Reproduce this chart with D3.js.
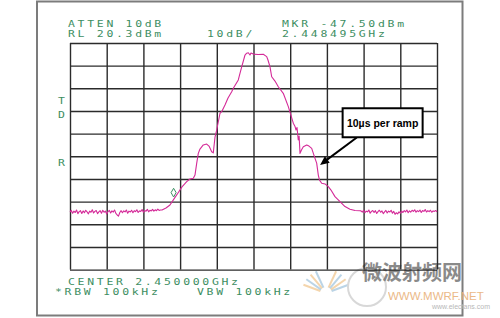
<!DOCTYPE html>
<html>
<head>
<meta charset="utf-8">
<script src="https://cdn.jsdelivr.net/npm/d3@7/dist/d3.min.js"></script>
<style>
  body { margin: 0; background: #fff; }
  svg { display: block; }
  .grid line { stroke: #2b2b2b; stroke-width: 1.4; }
  .grid .domain { display: none; }
  .readout { font-family: 'DejaVu Sans Mono', monospace; font-size: 8.5px; fill: #3d8e62; }
</style>
</head>
<body>
<div class="analyzer-container"></div>
<script>
// Data (frequency in MHz, level in dBm)
const freqTicks = [2446.5, 2447.2, 2447.9, 2448.6, 2449.3, 2450.0, 2450.7, 2451.4, 2452.1, 2452.8, 2453.5];
const levelTicks = [20.3, 10.3, 0.3, -9.7, -19.7, -29.7, -39.7, -49.7, -59.7, -69.7, -79.7];

const noiseLeft = [
    [2446.500, -54.3], [2446.525, -53.6], [2446.550, -54.8], [2446.575, -53.9], [2446.600, -54.5],
    [2446.625, -53.4], [2446.650, -55.0], [2446.675, -54.1], [2446.700, -53.7], [2446.725, -54.9],
    [2446.750, -53.8], [2446.775, -54.6], [2446.800, -53.5], [2446.825, -54.2], [2446.850, -55.1],
    [2446.875, -53.9], [2446.900, -54.4], [2446.925, -53.3], [2446.950, -54.7], [2446.975, -54.0],
    [2447.000, -53.6], [2447.025, -55.0], [2447.050, -54.2], [2447.075, -53.7], [2447.100, -54.8],
    [2447.125, -53.5], [2447.150, -54.4], [2447.175, -53.9], [2447.200, -55.2], [2447.225, -54.1],
    [2447.250, -53.6], [2447.275, -54.7], [2447.300, -53.8], [2447.325, -54.3], [2447.350, -53.4],
    [2447.375, -54.9], [2447.400, -55.6], [2447.425, -56.1], [2447.450, -54.5], [2447.475, -53.7],
    [2447.500, -54.6], [2447.525, -53.8], [2447.550, -54.2], [2447.575, -53.4], [2447.600, -54.8],
    [2447.625, -53.9], [2447.650, -54.3], [2447.675, -53.5], [2447.700, -54.6], [2447.725, -53.7],
    [2447.750, -54.1], [2447.775, -53.3], [2447.800, -54.5], [2447.825, -53.8], [2447.850, -54.0],
    [2447.875, -53.2], [2447.900, -54.4], [2447.925, -53.6], [2447.950, -53.9], [2447.975, -53.1],
    [2448.000, -54.2], [2448.025, -53.5], [2448.050, -53.8], [2448.075, -53.1], [2448.100, -53.9],
    [2448.125, -53.3], [2448.150, -53.7], [2448.175, -53.0], [2448.200, -53.6], [2448.225, -53.4]
];

const signal = [
    [2448.255, -53.4], [2448.331, -52.5], [2448.407, -51.2], [2448.484, -48.5], [2448.560, -45.9],
    [2448.636, -43.2], [2448.726, -40.9], [2448.789, -39.7], [2448.852, -39.4], [2448.884, -38.0],
    [2448.917, -32.7], [2448.947, -28.4], [2448.979, -26.5], [2449.042, -24.7], [2449.107, -24.3],
    [2449.151, -25.2], [2449.203, -27.7], [2449.233, -28.2], [2449.266, -21.2], [2449.298, -18.1],
    [2449.361, -10.7], [2449.393, -10.0], [2449.456, -7.1], [2449.514, -4.0], [2449.584, -1.2],
    [2449.615, 0.3], [2449.710, 4.0], [2449.742, 6.9], [2449.775, 9.8], [2449.838, 15.0],
    [2449.870, 15.8], [2449.901, 16.0], [2449.933, 15.0], [2449.952, 15.9], [2449.996, 15.4],
    [2450.086, 15.2], [2450.187, 15.3], [2450.252, 14.3], [2450.276, 12.8], [2450.315, 9.8],
    [2450.347, 5.4], [2450.410, 3.5], [2450.473, 1.0], [2450.568, -1.9], [2450.664, -7.8],
    [2450.696, -10.2], [2450.759, -15.1], [2450.790, -16.4], [2450.811, -18.1], [2450.830, -17.0],
    [2450.854, -22.5], [2450.870, -20.8], [2450.887, -28.4], [2450.915, -26.9], [2450.950, -25.5],
    [2451.015, -24.7], [2451.058, -25.2], [2451.110, -26.2], [2451.173, -30.6], [2451.205, -32.7],
    [2451.236, -38.0], [2451.259, -40.2], [2451.301, -41.6], [2451.364, -41.9], [2451.427, -43.1],
    [2451.478, -44.6], [2451.554, -47.5], [2451.650, -49.7], [2451.745, -51.9], [2451.840, -53.1],
    [2451.936, -53.6], [2452.031, -53.7]
];

const noiseRight = [
    [2452.050, -53.8], [2452.075, -54.3], [2452.100, -53.5], [2452.125, -54.6], [2452.150, -53.9],
    [2452.175, -54.2], [2452.200, -53.4], [2452.225, -54.8], [2452.250, -54.0], [2452.275, -53.6],
    [2452.300, -54.5], [2452.325, -53.7], [2452.350, -54.9], [2452.375, -54.1], [2452.400, -53.5],
    [2452.425, -54.4], [2452.450, -53.8], [2452.475, -55.0], [2452.500, -54.2], [2452.525, -53.6],
    [2452.550, -54.7], [2452.575, -53.9], [2452.600, -54.3], [2452.625, -53.5], [2452.650, -54.8],
    [2452.675, -54.0], [2452.700, -55.3], [2452.725, -54.6], [2452.750, -55.1], [2452.775, -54.2],
    [2452.800, -54.8], [2452.825, -53.9], [2452.850, -54.5], [2452.875, -53.7], [2452.900, -54.2],
    [2452.925, -53.4], [2452.950, -54.6], [2452.975, -53.8], [2453.000, -54.3], [2453.025, -53.5],
    [2453.050, -54.0], [2453.075, -53.3], [2453.100, -54.4], [2453.125, -53.7], [2453.150, -54.1],
    [2453.175, -53.4], [2453.200, -54.5], [2453.225, -53.6], [2453.250, -54.0], [2453.275, -53.2],
    [2453.300, -54.3], [2453.325, -53.7], [2453.350, -54.1], [2453.375, -53.5], [2453.400, -54.4],
    [2453.425, -53.8], [2453.450, -54.0], [2453.475, -53.6], [2453.500, -54.2]
];

const marker = {freq: 2448.495, level: -47.5};

const readouts = [
    {text: 'ATTEN 10dB', x: 68, y: 27},
    {text: 'RL 20.3dBm', x: 68, y: 36.5},
    {text: '10dB/', x: 207, y: 36.5},
    {text: 'MKR -47.50dBm', x: 282, y: 27},
    {text: '2.448495GHz', x: 282, y: 36.5},
    {text: 'CENTER 2.450000GHz', x: 68, y: 285},
    {text: '*RBW 100kHz', x: 55, y: 295},
    {text: 'VBW 100kHz', x: 197, y: 295}
];
const sideLabels = [
    {text: 'T', y: 104},
    {text: 'D', y: 117.5},
    {text: 'R', y: 166}
];

const note = {
    text: '10\u00b5s per ramp',
    boxFreq: 2451.7, boxLevel: -8.5,
    tailFreq: 2451.97, tailLevel: -21.4,
    tipFreq: 2451.27, tipLevel: -33.5
};

// Main
function ready(){
    const margin = {top: 43, left: 70};
    const width = 367;
    const height = 226.6;

    const xScale = d3.scaleLinear()
        .domain(d3.extent(freqTicks))
        .range([0, width]);

    const yScale = d3.scaleLinear()
        .domain(d3.extent(levelTicks))
        .range([height, 0]);

    const root = d3.select('.analyzer-container')
        .append('svg')
        .attr('width', 500)
        .attr('height', 318);

    // Outer frame
    root.append('rect')
        .attr('x', 37)
        .attr('y', 1.5)
        .attr('width', 425.5)
        .attr('height', 314)
        .style('fill', 'none')
        .style('stroke', '#7c7c7c')
        .style('stroke-width', 2);

    // Watermark
    const wm = root.append('g').attr('class', 'watermark');
    const rays = [-70, -55, -40, -25, 25, 40, 55, 70];
    wm.selectAll('.ray')
        .data(rays)
        .enter()
        .append('line')
        .attr('x1', d => 326 + Math.sin(d * Math.PI / 180) * 6)
        .attr('y1', d => 293 - Math.cos(d * Math.PI / 180) * 6)
        .attr('x2', d => 326 + Math.sin(d * Math.PI / 180) * 24)
        .attr('y2', d => 293 - Math.cos(d * Math.PI / 180) * 24)
        .style('stroke', (d, i) => (i % 2 ? '#9fc3dc' : '#f0c48a'))
        .style('stroke-width', 2)
        .style('opacity', 0.7);
    wm.append('circle')
        .attr('cx', 367)
        .attr('cy', 287)
        .attr('r', 19)
        .style('fill', 'none')
        .style('stroke', '#d8d8d8')
        .style('stroke-width', 2);
    wm.append('text')
        .attr('x', 362)
        .attr('y', 280)
        .text('微波射频网')
        .style('font-family', "'Noto Sans CJK SC', sans-serif")
        .style('font-weight', 'bold')
        .style('font-size', '20px')
        .style('fill', '#6e6e6e')
        .style('opacity', 0.8);
    wm.append('text')
        .attr('x', 388)
        .attr('y', 300)
        .text('WWW.MWRF.NET')
        .style('font-family', "'Liberation Sans', sans-serif")
        .style('font-size', '11.5px')
        .style('fill', '#eab27a')
        .style('opacity', 0.9);
    wm.append('text')
        .attr('x', 432)
        .attr('y', 309)
        .text('www.elecfans.com')
        .style('font-family', "'Liberation Sans', sans-serif")
        .style('font-size', '7px')
        .style('fill', '#b8b8b8');

    const svg = root.append('g')
        .attr('transform', `translate(${margin.left}, ${margin.top})`);

    // Grid
    const xAxis = d3.axisBottom(xScale)
        .tickValues(freqTicks)
        .tickFormat('')
        .tickSizeInner(-height)
        .tickSizeOuter(0);

    const yAxis = d3.axisLeft(yScale)
        .tickValues(levelTicks)
        .tickFormat('')
        .tickSizeInner(-width)
        .tickSizeOuter(0);

    svg.append('g')
        .attr('class', 'grid x')
        .attr('transform', `translate(0, ${height})`)
        .call(xAxis);

    svg.append('g')
        .attr('class', 'grid y')
        .call(yAxis);

    // Trace
    const trace = noiseLeft.concat(signal, noiseRight);
    const line = d3.line()
        .x(d => xScale(d[0]))
        .y(d => yScale(d[1]));

    svg.append('path')
        .datum(trace)
        .attr('d', line)
        .style('fill', 'none')
        .style('stroke', '#d42a98')
        .style('stroke-width', 1.1)
        .style('stroke-linejoin', 'round');

    // Marker
    svg.append('path')
        .attr('d', d3.symbol(d3.symbolDiamond, 22)())
        .attr('transform', `translate(${xScale(marker.freq) - 1}, ${yScale(marker.level) - 4})`)
        .style('fill', 'none')
        .style('stroke', '#3d8e62')
        .style('stroke-width', 1);

    // Annotation
    const bx = xScale(note.boxFreq);
    const by = yScale(note.boxLevel);
    svg.append('line')
        .attr('x1', xScale(note.tailFreq))
        .attr('y1', yScale(note.tailLevel))
        .attr('x2', xScale(note.tipFreq) + 4)
        .attr('y2', yScale(note.tipLevel) - 3)
        .style('stroke', '#000')
        .style('stroke-width', 2);

    const ang = Math.atan2(yScale(note.tipLevel) - yScale(note.tailLevel), xScale(note.tipFreq) - xScale(note.tailFreq));
    svg.append('path')
        .attr('d', 'M0,0 L-9,-4 L-9,4 Z')
        .attr('transform', `translate(${xScale(note.tipFreq)}, ${yScale(note.tipLevel)}) rotate(${ang * 180 / Math.PI})`)
        .style('fill', '#000');

    svg.append('rect')
        .attr('x', bx)
        .attr('y', by)
        .attr('width', 80)
        .attr('height', 29)
        .style('fill', '#fff')
        .style('stroke', '#000')
        .style('stroke-width', 2);

    svg.append('text')
        .attr('x', bx + 40)
        .attr('y', by + 18.5)
        .attr('text-anchor', 'middle')
        .text(note.text)
        .style('font-family', "'Liberation Sans Narrow', 'Arial Narrow', sans-serif")
        .style('font-weight', 'bold')
        .style('font-size', '10.5px')
        .style('fill', '#000');

    // Readouts
    root.append('g')
        .selectAll('.readout')
        .data(readouts)
        .enter()
        .append('text')
        .attr('class', 'readout')
        .attr('transform', d => `translate(${d.x}, ${d.y}) scale(1.35, 1)`)
        .style('letter-spacing', '2px')
        .text(d => d.text);

    root.append('g')
        .selectAll('.side')
        .data(sideLabels)
        .enter()
        .append('text')
        .attr('class', 'readout')
        .attr('transform', d => `translate(58, ${d.y}) scale(1.35, 1)`)
        .text(d => d.text);
}

ready();
</script>
</body>
</html>
